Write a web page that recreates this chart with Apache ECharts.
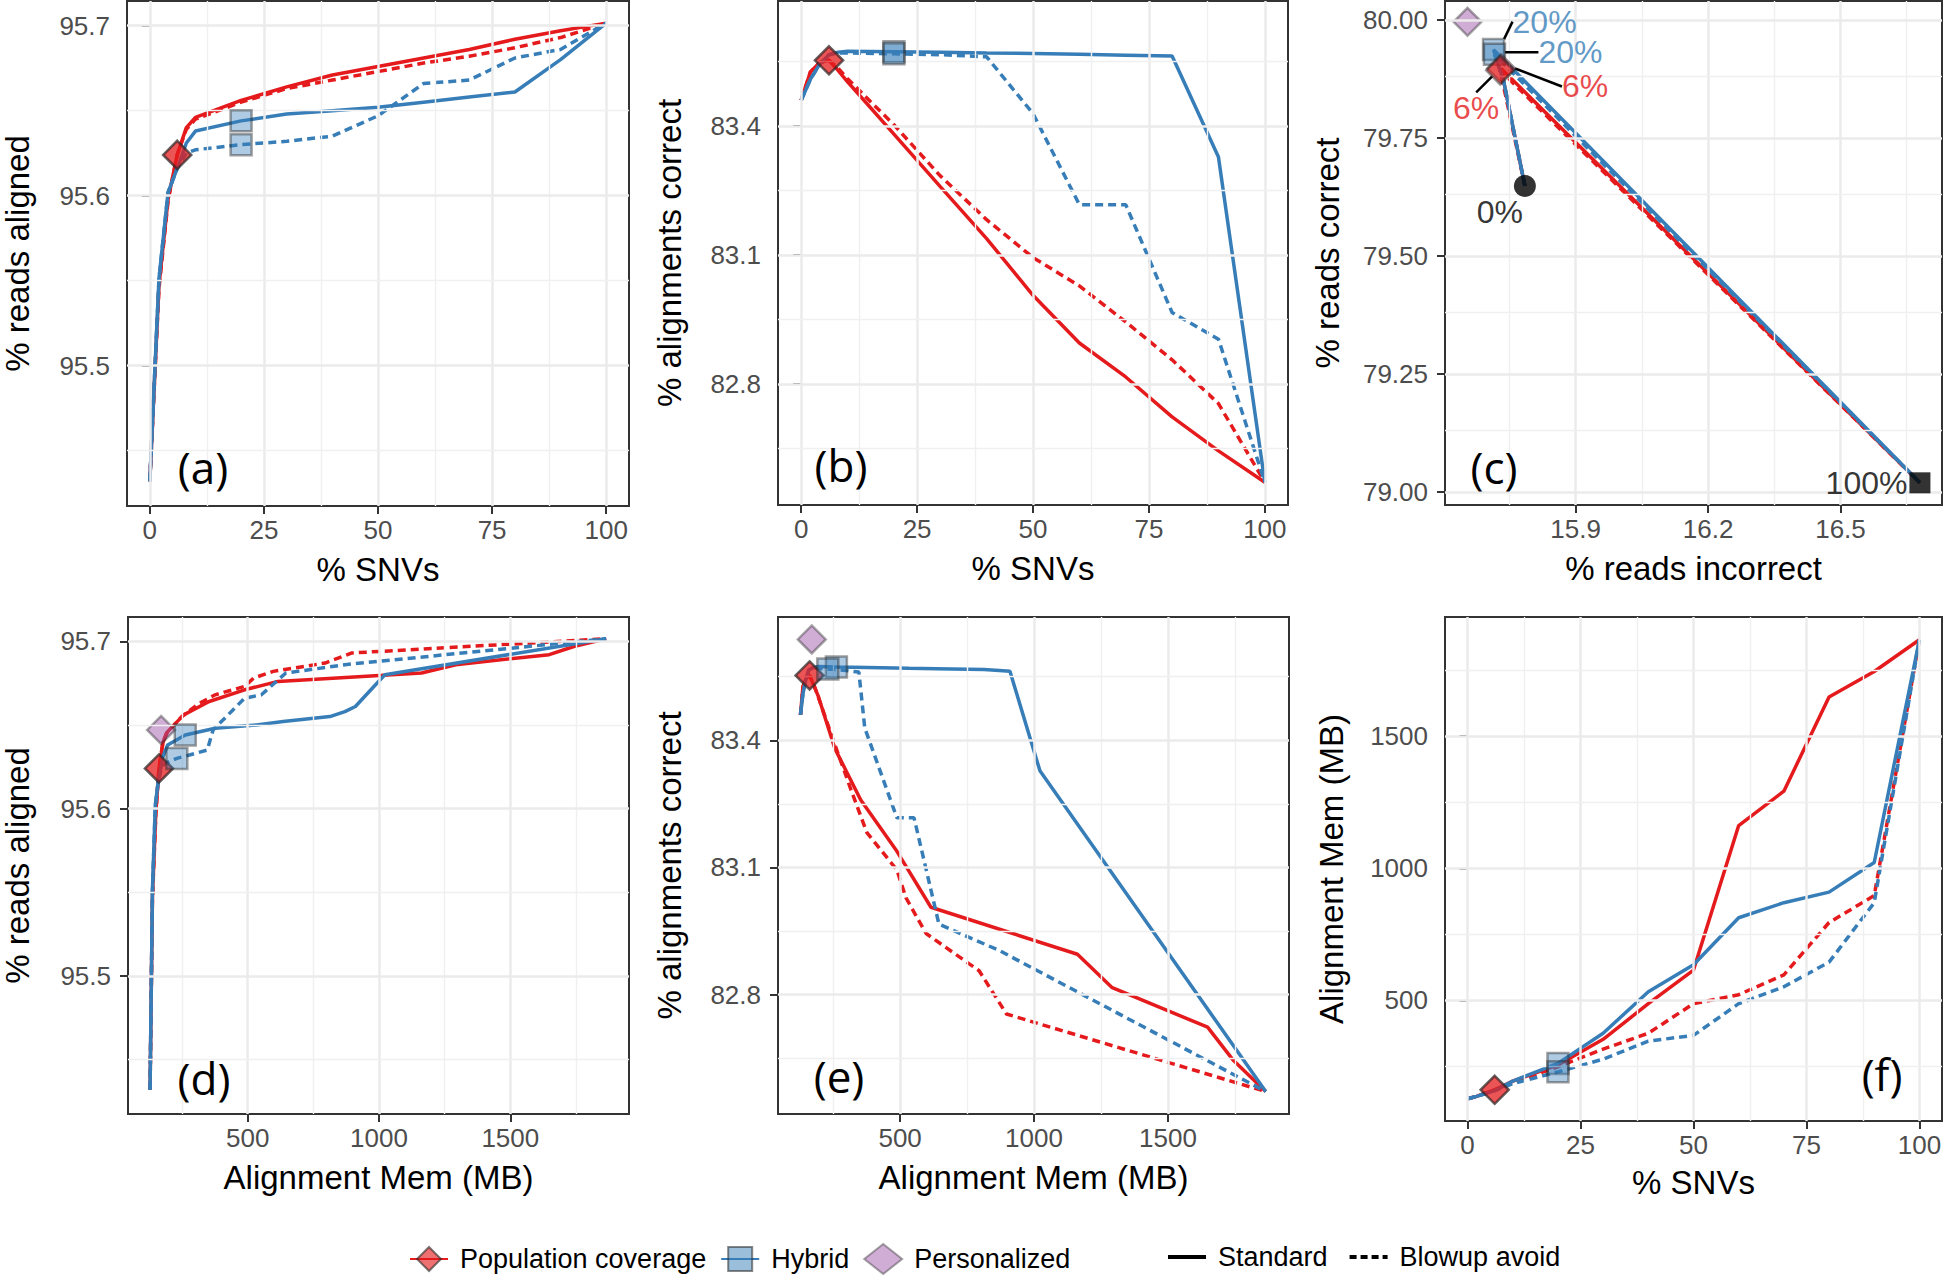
<!DOCTYPE html>
<html><head><meta charset="utf-8">
<script src="https://cdn.jsdelivr.net/npm/echarts@6/dist/echarts.min.js"></script>
<style>html,body{margin:0;padding:0;background:#fff}#chart{width:1946px;height:1275px}</style>
</head><body><div id="chart"></div>
<script>
// ---------------- data ----------------
const snvPct = [0, 2, 4, 6, 8, 10, 20, 30, 40, 50, 60, 70, 80, 90, 100];

const popStdAligned  = [95.432, 95.547, 95.598, 95.624, 95.640, 95.646, 95.656, 95.664, 95.671, 95.676, 95.681, 95.686, 95.692, 95.697, 95.7015];
const popBlowAligned = [95.432, 95.545, 95.597, 95.624, 95.639, 95.645, 95.655, 95.663, 95.668, 95.673, 95.678, 95.682, 95.687, 95.693, 95.7015];
const hybStdAligned  = [95.432, 95.551, 95.602, 95.616, 95.631, 95.638, 95.644, 95.648, 95.650, 95.652, 95.655, 95.658, 95.661, 95.680, 95.7015];
const hybBlowAligned = [95.432, 95.551, 95.602, 95.616, 95.625, 95.627, 95.630, 95.632, 95.635, 95.647, 95.666, 95.668, 95.681, 95.686, 95.7015];

const popStdCorrect  = [83.460, 83.526, 83.548, 83.553, 83.529, 83.503, 83.381, 83.259, 83.138, 83.006, 82.895, 82.816, 82.723, 82.644, 82.571];
const popBlowCorrect = [83.460, 83.526, 83.548, 83.553, 83.534, 83.510, 83.403, 83.284, 83.182, 83.094, 83.028, 82.944, 82.856, 82.754, 82.571];
const hybStdCorrect  = [83.460, 83.509, 83.544, 83.566, 83.572, 83.574, 83.573, 83.572, 83.570, 83.569, 83.567, 83.565, 83.563, 83.328, 82.571];
const hybBlowCorrect = [83.460, 83.509, 83.544, 83.566, 83.570, 83.570, 83.568, 83.566, 83.561, 83.429, 83.217, 83.217, 82.966, 82.904, 82.571];

const popStdMem  = [128, 137, 150, 162, 178, 195, 256, 353, 488, 615, 1162, 1292, 1648, 1745, 1865];
const popBlowMem = [128, 137, 150, 162, 176, 190, 249, 316, 376, 488, 522, 597, 795, 897, 1865];
const hybStdMem  = [128, 137, 148, 159, 177, 195, 262, 376, 533, 635, 813, 870, 910, 1022, 1865];
const hybBlowMem = [128, 137, 148, 159, 172, 185, 230, 278, 346, 368, 488, 552, 645, 870, 1865];

// panel (c): reads correct vs reads incorrect (visible vertices)
const popCSnv = [0, 6, 100];
const popStdReadsIncorrect  = [15.785, 15.731, 16.680];
const popStdReadsCorrect    = [79.648, 79.897, 79.019];
const popBlowReadsIncorrect = [15.785, 15.729, 16.680];
const popBlowReadsCorrect   = [79.648, 79.893, 79.019];
const hybCSnv = [0, 6, 20, 100];
const hybStdReadsIncorrect  = [15.785, 15.737, 15.714, 16.680];
const hybStdReadsCorrect    = [79.648, 79.870, 79.937, 79.019];
const hybBlowReadsIncorrect = [15.785, 15.737, 15.716, 16.680];
const hybBlowReadsCorrect   = [79.648, 79.870, 79.927, 79.019];

// personalized reference
const personalizedMem = [170];
const personalizedAligned = [95.647];
const personalizedCorrect = [83.638];
const personalizedReadsIncorrect = [15.655];
const personalizedReadsCorrect = [79.996];

const popHighlightSnv = 6;
const hybHighlightSnv = 20;

// tick labels
const snvTicks = [0, 25, 50, 75, 100];
const alignedTicks = [95.5, 95.6, 95.7];
const correctTicks = [82.8, 83.1, 83.4];
const incorrectTicks = [15.9, 16.2, 16.5];
const readsCorrectTicks = [79.00, 79.25, 79.50, 79.75, 80.00];
const memTicks = [500, 1000, 1500];

// ---------------- styling ----------------
const RED = '#E41A1C', BLUE = '#377EB8';
const FONT = '"Liberation Sans", Arial, Helvetica, sans-serif';
const popItem  = {color: 'rgba(228,26,28,0.62)',  borderColor: 'rgba(40,40,40,0.6)', borderWidth: 2.5};
const hybItem  = {color: 'rgba(55,126,184,0.5)',  borderColor: 'rgba(40,40,40,0.55)', borderWidth: 2.5};
const persItem = {color: 'rgba(152,78,163,0.58)', borderColor: 'rgba(40,40,40,0.5)', borderWidth: 2.5};
const DASH = [8, 5];
const LW = 3.5;

const panels = [
  {grid:{left:119, top:1,   width:510, height:505}, xr:[-5,105],        yr:[95.4175,95.7145], xt:snvTicks,       yt:alignedTicks,      xn:'% SNVs',             yn:'% reads aligned',      xf:v=>String(v), yf:v=>v.toFixed(1), xGap:47, yGap:93,  tag:'(a)', tagXY:[203,467]},
  {grid:{left:778, top:1,   width:510, height:504}, xr:[-5,105],        yr:[82.518,83.691],   xt:snvTicks,       yt:correctTicks,      xn:'% SNVs',             yn:'% alignments correct', xf:v=>String(v), yf:v=>v.toFixed(1), xGap:47, yGap:92,  tag:'(b)', tagXY:[841,465]},
  {grid:{left:1445,top:1,   width:497, height:504}, xr:[15.604,16.73],  yr:[78.972,80.04],    xt:incorrectTicks, yt:readsCorrectTicks, xn:'% reads incorrect',  yn:'% reads correct',      xf:v=>v.toFixed(1), yf:v=>v.toFixed(2), xGap:47, yGap:101, tag:'(c)', tagXY:[1494,467]},
  {grid:{left:119, top:617, width:510, height:497}, xr:[44,1952],       yr:[95.4175,95.7145], xt:memTicks,       yt:alignedTicks,      xn:'Alignment Mem (MB)', yn:'% reads aligned',      xf:v=>String(v), yf:v=>v.toFixed(1), xGap:47, yGap:94,  tag:'(d)', tagXY:[204,1078]},
  {grid:{left:778, top:617, width:511, height:497}, xr:[44,1952],       yr:[82.518,83.691],   xt:memTicks,       yt:correctTicks,      xn:'Alignment Mem (MB)', yn:'% alignments correct', xf:v=>String(v), yf:v=>v.toFixed(1), xGap:47, yGap:92,  tag:'(e)', tagXY:[839,1076]},
  {grid:{left:1445,top:617, width:497, height:504}, xr:[-5,105],        yr:[44,1951],         xt:snvTicks,       yt:memTicks,          xn:'% SNVs',             yn:'Alignment Mem (MB)',   xf:v=>String(v), yf:v=>String(v), xGap:45, yGap:97,  tag:'(f)', tagXY:[1882,1074]}
];

function minorOf(ticks, min, max) {
  const s = ticks[1] - ticks[0];
  let v = ticks[0] - s / 2;
  while (v - s >= min) v -= s;
  const out = [];
  for (; v <= max + 1e-9; v += s) if (v >= min) out.push(+v.toFixed(6));
  return out;
}

const grids = [], xAxes = [], yAxes = [], series = [], graphics = [];

// legend-only series (first so legend takes their icons)
series.push({type:'line', name:'Population coverage', data:[], xAxisIndex:0, yAxisIndex:0, symbol:'diamond', symbolSize:28, itemStyle:popItem, lineStyle:{color:RED, width:4}});
series.push({type:'line', name:'Hybrid', data:[], xAxisIndex:0, yAxisIndex:0, symbol:'rect', symbolSize:22, itemStyle:hybItem, lineStyle:{color:BLUE, width:4}});
series.push({type:'scatter', name:'Personalized', data:[], xAxisIndex:0, yAxisIndex:0, symbol:'diamond', symbolSize:28, itemStyle:persItem});
series.push({type:'line', name:'Standard', data:[], xAxisIndex:0, yAxisIndex:0, symbol:'none', itemStyle:{color:'#000'}, lineStyle:{color:'#000', width:4}});
series.push({type:'line', name:'Blowup avoid', data:[], xAxisIndex:0, yAxisIndex:0, symbol:'none', itemStyle:{color:'#000'}, lineStyle:{color:'#000', width:4, type:DASH}});

panels.forEach((p, i) => {
  grids.push(Object.assign({show:true, borderColor:'#333', borderWidth:2, backgroundColor:'rgba(0,0,0,0)'}, p.grid));
  const common = (ticks, fmt, name, gap, isX) => ({
    type:'value', gridIndex:i, name:name, nameLocation:'middle', nameGap:gap,
    nameTextStyle:{fontSize:33, color:'#000', fontFamily:FONT},
    axisLine:{show:false}, splitLine:{show:false},
    axisTick:{show:true, length:8, lineStyle:{color:'#333', width:2}, customValues:ticks},
    axisLabel:{show:true, customValues:ticks, formatter:fmt, fontSize:26, color:'#4D4D4D', fontFamily:FONT, margin: isX ? 11 : 17}
  });
  xAxes.push(Object.assign(common(p.xt, p.xf, p.xn, p.xGap, true), {min:p.xr[0], max:p.xr[1], position:'bottom'}));
  yAxes.push(Object.assign(common(p.yt, p.yf, p.yn, p.yGap, false), {min:p.yr[0], max:p.yr[1], position:'left'}));

  // grid lines (ggplot theme_bw style)
  const major = {color:'#EBEBEB', width:2.5, type:'solid'};
  const minor = {color:'#F0F0F0', width:1.4, type:'solid'};
  const ml = [];
  p.xt.forEach(v => ml.push({xAxis:v, lineStyle:major}));
  minorOf(p.xt, p.xr[0], p.xr[1]).forEach(v => ml.push({xAxis:v, lineStyle:minor}));
  p.yt.forEach(v => ml.push({yAxis:v, lineStyle:major}));
  minorOf(p.yt, p.yr[0], p.yr[1]).forEach(v => ml.push({yAxis:v, lineStyle:minor}));
  series.push({type:'line', name:'grid' + i, data:[], xAxisIndex:i, yAxisIndex:i, z:1, silent:true,
    markLine:{silent:true, symbol:['none','none'], label:{show:false}, emphasis:{disabled:true}, animation:false, data:ml}});

  graphics.push({type:'text', x:p.tagXY[0], y:p.tagXY[1], z:10,
    style:{text:p.tag, fontSize:44, fontFamily:'"Open Sans", "DejaVu Sans", sans-serif', fill:'#000', align:'center', verticalAlign:'middle'}});
});

const lineDefs = [
  {color:RED,  dash:false, aligned:popStdAligned,  correct:popStdCorrect,  mem:popStdMem},
  {color:RED,  dash:true,  aligned:popBlowAligned, correct:popBlowCorrect, mem:popBlowMem},
  {color:BLUE, dash:false, aligned:hybStdAligned,  correct:hybStdCorrect,  mem:hybStdMem},
  {color:BLUE, dash:true,  aligned:hybBlowAligned, correct:hybBlowCorrect, mem:hybBlowMem}
];
// metric accessors for panels a,b,d,e,f
const panelXY = {
  0: d => [snvPct, d.aligned],
  1: d => [snvPct, d.correct],
  3: d => [d.mem, d.aligned],
  4: d => [d.mem, d.correct],
  5: d => [snvPct, d.mem]
};
const zip = (xs, ys) => xs.map((x, k) => [x, ys[k]]);

Object.keys(panelXY).forEach(key => {
  const i = +key;
  lineDefs.forEach((d, j) => {
    const [xs, ys] = panelXY[i](d);
    series.push({type:'line', name:'curve' + i + '_' + j, xAxisIndex:i, yAxisIndex:i, z:3 + j * 0.01,
      data: zip(xs, ys), showSymbol:false, symbol:'none', silent:true,
      lineStyle:{color:d.color, width:LW, type: d.dash ? DASH : 'solid'}});
  });
  const pk = snvPct.indexOf(popHighlightSnv), hk = snvPct.indexOf(hybHighlightSnv);
  if (i === 3 || i === 4) {
    const ys = i === 3 ? personalizedAligned : personalizedCorrect;
    series.push({type:'scatter', name:'Personalized', xAxisIndex:i, yAxisIndex:i, z:4, symbol:'diamond', symbolSize:28, itemStyle:persItem,
      data: zip(personalizedMem, ys), silent:true});
  }
  series.push({type:'scatter', name:'Population coverage', xAxisIndex:i, yAxisIndex:i, z:5, symbol:'diamond', symbolSize:28, itemStyle:popItem, silent:true,
    data: lineDefs.slice(0, 2).map(d => { const [xs, ys] = panelXY[i](d); return [xs[pk], ys[pk]]; })});
  series.push({type:'scatter', name:'Hybrid', xAxisIndex:i, yAxisIndex:i, z:5, symbol:'rect', symbolSize:21, itemStyle:hybItem, silent:true,
    data: lineDefs.slice(2, 4).map(d => { const [xs, ys] = panelXY[i](d); return [xs[hk], ys[hk]]; })});
});

// panel (c)
const cLines = [
  {color:RED,  dash:false, xs:popStdReadsIncorrect,  ys:popStdReadsCorrect},
  {color:RED,  dash:true,  xs:popBlowReadsIncorrect, ys:popBlowReadsCorrect},
  {color:BLUE, dash:false, xs:hybStdReadsIncorrect,  ys:hybStdReadsCorrect},
  {color:BLUE, dash:true,  xs:hybBlowReadsIncorrect, ys:hybBlowReadsCorrect}
];
cLines.forEach((d, j) => series.push({type:'line', name:'curveC_' + j, xAxisIndex:2, yAxisIndex:2, z:3 + j * 0.01,
  data: zip(d.xs, d.ys), showSymbol:false, symbol:'none', silent:true,
  lineStyle:{color:d.color, width:LW, type: d.dash ? DASH : 'solid'}}));

series.push({type:'scatter', name:'Personalized', xAxisIndex:2, yAxisIndex:2, z:4, symbol:'diamond', symbolSize:28, itemStyle:persItem, silent:true,
  data: zip(personalizedReadsIncorrect, personalizedReadsCorrect)});

const cp = popCSnv.indexOf(popHighlightSnv), ch = hybCSnv.indexOf(hybHighlightSnv);
const labelFont = {fontSize:32, lineHeight:30, fontFamily:FONT};
const popLabelShift = [{dx:84, dy:18}, {dx:-24, dy:38}];
const hybLabelShift = [{dx:51, dy:-28}, {dx:76, dy:-2}];
series.push({type:'scatter', name:'Hybrid', xAxisIndex:2, yAxisIndex:2, z:5, symbol:'rect', symbolSize:21, itemStyle:hybItem, silent:true,
  data:[[hybStdReadsIncorrect[ch], hybStdReadsCorrect[ch]], [hybBlowReadsIncorrect[ch], hybBlowReadsCorrect[ch]]],
  label:Object.assign({show:true, position:'inside', color:BLUE, formatter: hybCSnv[ch] + '%'}, labelFont),
  labelLayout: prm => hybLabelShift[prm.dataIndex],
  labelLine:{show:true, length2:0, lineStyle:{color:'#000', width:2.5}}});
series.push({type:'scatter', name:'Population coverage', xAxisIndex:2, yAxisIndex:2, z:5, symbol:'diamond', symbolSize:28, itemStyle:popItem, silent:true,
  data:[[popStdReadsIncorrect[cp], popStdReadsCorrect[cp]], [popBlowReadsIncorrect[cp], popBlowReadsCorrect[cp]]],
  label:Object.assign({show:true, position:'inside', color:RED, formatter: popCSnv[cp] + '%'}, labelFont),
  labelLayout: prm => popLabelShift[prm.dataIndex],
  labelLine:{show:true, length2:0, lineStyle:{color:'#000', width:2.5}}});
// 0% and 100% endpoints
const c0 = popCSnv.indexOf(0), c100 = popCSnv.indexOf(100);
series.push({type:'scatter', name:'endpoints', xAxisIndex:2, yAxisIndex:2, z:6, silent:true, itemStyle:{color:'#000'},
  data:[
    {value:[popStdReadsIncorrect[c0], popStdReadsCorrect[c0]], symbol:'circle', symbolSize:22,
     label:Object.assign({show:true, position:'inside', offset:[-25, 26], color:'#000', formatter: popCSnv[c0] + '%'}, labelFont)},
    {value:[popStdReadsIncorrect[c100], popStdReadsCorrect[c100]], symbol:'rect', symbolSize:21,
     label:Object.assign({show:true, position:'left', distance:2, color:'#000', formatter: popCSnv[c100] + '%'}, labelFont)}
  ]});

const legendText = {fontSize:27, lineHeight:28, color:'#000', fontFamily:FONT, padding:[0,0,0,7]};
const solidIcon = 'path://M0,0h38v4h-38z';
const dashIcon = 'path://M0,0h7v4h-7z M11,0h7v4h-7z M22,0h7v4h-7z M33,0h5v4h-5z';
const option = {
  animation:false,
  backgroundColor:'#fff',
  grid: grids, xAxis: xAxes, yAxis: yAxes, series: series, graphic: graphics,
  legend:[
    {data:['Population coverage', 'Hybrid', 'Personalized'], left:409, top:1243, padding:0, itemWidth:38, itemHeight:30, itemGap:14, selectedMode:false, textStyle:legendText},
    {data:[{name:'Standard', icon:solidIcon}, {name:'Blowup avoid', icon:dashIcon}], left:1168, top:1243, padding:0, itemWidth:38, itemHeight:30, itemGap:22, selectedMode:false, textStyle:legendText}
  ]
};
const chart = echarts.init(document.getElementById('chart'), null, {renderer:'svg', width:1946, height:1275});
chart.setOption(option);
</script></body></html>
